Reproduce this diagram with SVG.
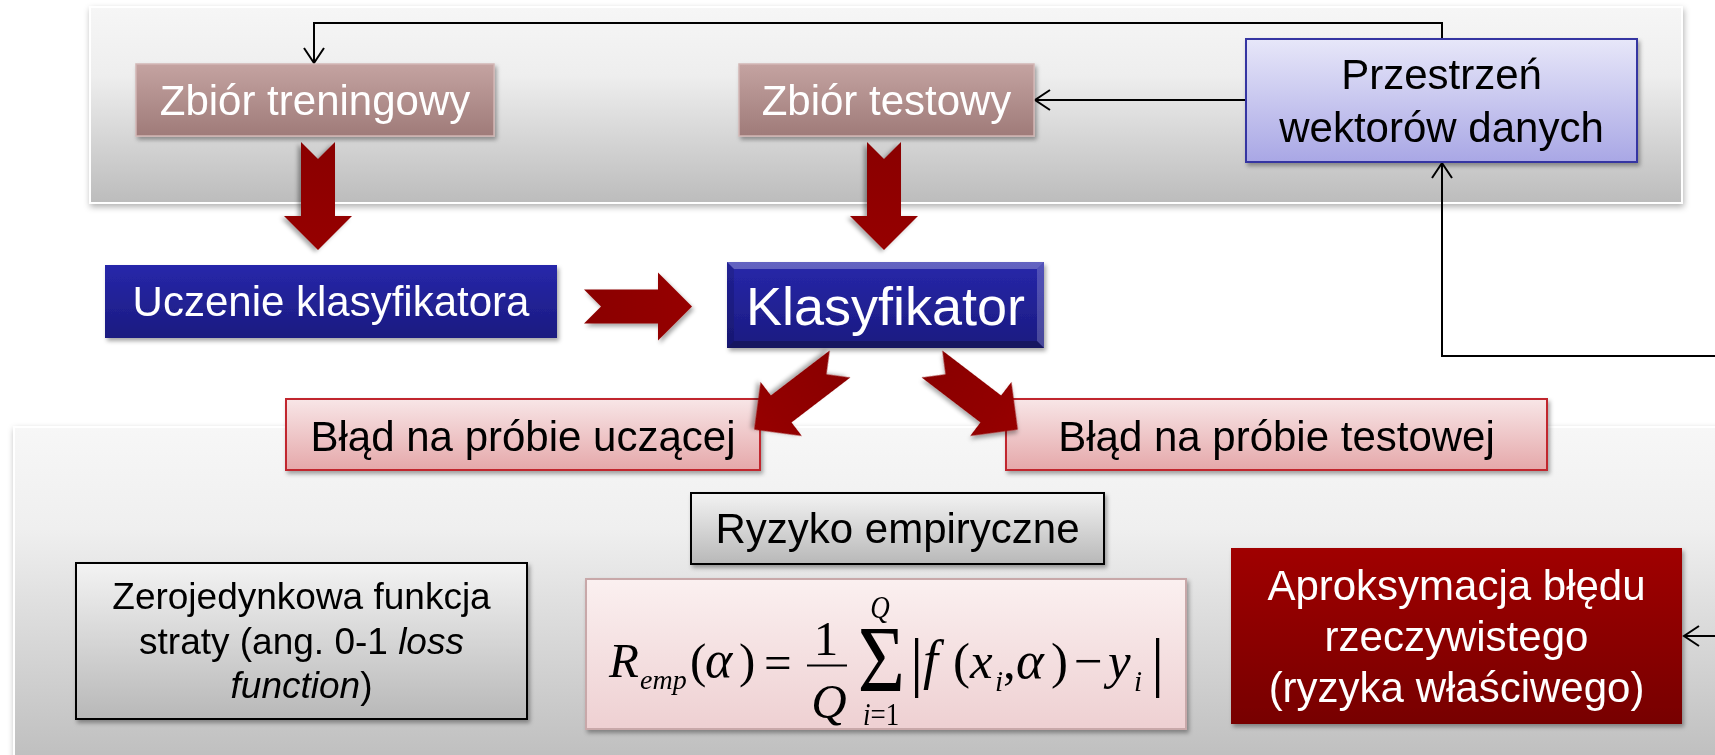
<svg xmlns="http://www.w3.org/2000/svg" width="1715" height="755" viewBox="0 0 1715 755">
  <defs>
    <style>
      .lbl { font-family: "Liberation Sans", Arial, sans-serif; font-size: 42px; text-anchor: middle; }
      .wht { fill: #ffffff; }
      .blk { fill: #000000; }
      .math { font-family: "Liberation Serif", "Times New Roman", serif; font-size: 49px; fill: #000; }
      .conn { fill: none; stroke: #000; stroke-width: 2; }
      .block { fill: url(#gArrow); filter: url(#shadow); }
    </style>
    <linearGradient id="gPanel" x1="0" y1="0" x2="0" y2="1">
      <stop offset="0" stop-color="#f6f6f6"/>
      <stop offset="0.35" stop-color="#eeeeee"/>
      <stop offset="1" stop-color="#bcbcbc"/>
    </linearGradient>
    <linearGradient id="gPanelLow" x1="0" y1="0" x2="0" y2="1">
      <stop offset="0" stop-color="#f7f7f7"/>
      <stop offset="0.3" stop-color="#efefef"/>
      <stop offset="1" stop-color="#bdbdbd"/>
    </linearGradient>
    <linearGradient id="gMauve" x1="0" y1="0" x2="0" y2="1">
      <stop offset="0" stop-color="#c4a3a1"/>
      <stop offset="1" stop-color="#9f7b79"/>
    </linearGradient>
    <linearGradient id="gLav" x1="0" y1="0" x2="0" y2="1">
      <stop offset="0" stop-color="#e7e7f9"/>
      <stop offset="1" stop-color="#a9a7e5"/>
    </linearGradient>
    <linearGradient id="gNavy" x1="0" y1="0" x2="0" y2="1">
      <stop offset="0" stop-color="#2727aa"/>
      <stop offset="1" stop-color="#1b1b80"/>
    </linearGradient>
    <linearGradient id="gPink" x1="0" y1="0" x2="0" y2="1">
      <stop offset="0" stop-color="#f8e6e7"/>
      <stop offset="1" stop-color="#e5a8aa"/>
    </linearGradient>
    <linearGradient id="gGrey" x1="0" y1="0" x2="0" y2="1">
      <stop offset="0" stop-color="#f3f3f3"/>
      <stop offset="1" stop-color="#b8b8b8"/>
    </linearGradient>
    <linearGradient id="gFormula" x1="0" y1="0" x2="0" y2="1">
      <stop offset="0" stop-color="#fbf0f0"/>
      <stop offset="1" stop-color="#eed0d2"/>
    </linearGradient>
    <linearGradient id="gDarkRed" x1="0" y1="0" x2="0" y2="1">
      <stop offset="0" stop-color="#a00000"/>
      <stop offset="1" stop-color="#770000"/>
    </linearGradient>
    <linearGradient id="gArrow" x1="0" y1="0" x2="1" y2="0">
      <stop offset="0" stop-color="#8a0000"/>
      <stop offset="1" stop-color="#960000"/>
    </linearGradient>
    <filter id="shadow" x="-15%" y="-15%" width="140%" height="150%">
      <feDropShadow dx="2" dy="3" stdDeviation="2" flood-color="#000" flood-opacity="0.35"/>
    </filter>
    <filter id="panelShadow" x="-5%" y="-5%" width="110%" height="115%">
      <feDropShadow dx="1" dy="3" stdDeviation="3" flood-color="#000" flood-opacity="0.3"/>
    </filter>
    <marker id="open" markerUnits="userSpaceOnUse" markerWidth="22" markerHeight="24" refX="18" refY="11" orient="auto">
      <path d="M3,1 L18,11 L3,21" fill="none" stroke="#000" stroke-width="2"/>
    </marker>
    <!-- notched block arrow pointing along +x, tail centre at origin -->
    <path id="notched" d="M0,-17 L74,-17 L74,-34 L108,0 L74,34 L74,17 L0,17 L17,0 Z"/>
  </defs>

  <rect width="1715" height="755" fill="#ffffff"/>

  <!-- background panels -->
  <g id="panels">
    <rect x="90" y="7" width="1592" height="196" fill="url(#gPanel)" stroke="#ffffff" stroke-width="2" filter="url(#panelShadow)"/>
    <rect x="14" y="427" width="1720" height="340" fill="url(#gPanelLow)" stroke="#ffffff" stroke-width="2" filter="url(#panelShadow)"/>
  </g>

  <!-- thin connectors -->
  <g id="connectors">
    <path class="conn" d="M1442,39 V23 H314 V63" marker-end="url(#open)"/>
    <path class="conn" d="M1246,100 H1035" marker-end="url(#open)"/>
    <path class="conn" d="M1715,356 H1442 V163" marker-end="url(#open)"/>
    <path class="conn" d="M1715,636 H1684" marker-end="url(#open)"/>
  </g>

  <g id="zbior-treningowy" filter="url(#shadow)">
    <rect x="136" y="64" width="358" height="72" fill="url(#gMauve)" stroke="#d2b6b5" stroke-width="1.5"/>
    <text class="lbl wht" x="315" y="115">Zbiór treningowy</text>
  </g>

  <g id="zbior-testowy" filter="url(#shadow)">
    <rect x="739" y="64" width="295" height="72" fill="url(#gMauve)" stroke="#d2b6b5" stroke-width="1.5"/>
    <text class="lbl wht" x="886.5" y="115">Zbiór testowy</text>
  </g>

  <g id="przestrzen" filter="url(#shadow)">
    <rect x="1246" y="39" width="391" height="123" fill="url(#gLav)" stroke="#3535a2" stroke-width="2"/>
    <text class="lbl blk" x="1441.5" y="89">Przestrzeń</text>
    <text class="lbl blk" x="1441.5" y="142">wektorów danych</text>
  </g>

  <g id="uczenie" filter="url(#shadow)">
    <rect x="105" y="265" width="452" height="73" fill="url(#gNavy)"/>
    <text class="lbl wht" x="331" y="316">Uczenie klasyfikatora</text>
  </g>

  <g id="klasyfikator" filter="url(#shadow)">
    <rect x="727" y="262" width="317" height="86" fill="url(#gNavy)"/>
    <!-- bevelled edges -->
    <polygon points="727,262 1044,262 1037,269 734,269" fill="#ffffff" fill-opacity="0.28"/>
    <polygon points="1044,262 1044,348 1037,341 1037,269" fill="#ffffff" fill-opacity="0.2"/>
    <polygon points="727,348 1044,348 1037,341 734,341" fill="#000000" fill-opacity="0.25"/>
    <polygon points="727,262 734,269 734,341 727,348" fill="#000000" fill-opacity="0.12"/>
    <text class="lbl wht" x="885.5" y="325" style="font-size:54px">Klasyfikator</text>
  </g>

  <g id="blad-uczacej" filter="url(#shadow)">
    <rect x="286" y="399" width="474" height="71" fill="url(#gPink)" stroke="#c1272d" stroke-width="2"/>
    <text class="lbl blk" x="523" y="451">Błąd na próbie uczącej</text>
  </g>

  <g id="blad-testowej" filter="url(#shadow)">
    <rect x="1006" y="399" width="541" height="71" fill="url(#gPink)" stroke="#c1272d" stroke-width="2"/>
    <text class="lbl blk" x="1276.5" y="451">Błąd na próbie testowej</text>
  </g>

  <g id="ryzyko" filter="url(#shadow)">
    <rect x="691" y="493" width="413" height="71" fill="url(#gGrey)" stroke="#000" stroke-width="2"/>
    <text class="lbl blk" x="897.5" y="543">Ryzyko empiryczne</text>
  </g>

  <g id="zerojedynkowa" filter="url(#shadow)">
    <rect x="76" y="563" width="451" height="156" fill="url(#gGrey)" stroke="#000" stroke-width="2"/>
    <text class="lbl blk" x="301.5" y="609" style="font-size:37px">Zerojedynkowa funkcja</text>
    <text class="lbl blk" x="301.5" y="654" style="font-size:37px">straty (ang. 0-1 <tspan font-style="italic">loss</tspan></text>
    <text class="lbl blk" x="301.5" y="698" style="font-size:37px"><tspan font-style="italic">function</tspan>)</text>
  </g>

  <g id="wzor" filter="url(#shadow)">
    <rect x="586" y="579" width="600" height="150" fill="url(#gFormula)" stroke="#c8a8a9" stroke-width="2"/>
    <!-- left-hand side -->
    <text class="math"><tspan x="609" y="677" style="font-style:italic">R</tspan><tspan x="640" y="689" style="font-style:italic;font-size:28px">emp</tspan><tspan x="690" y="677">(</tspan><tspan x="705" y="677" style="font-style:italic;font-size:52px">α</tspan><tspan x="739" y="677">)</tspan><tspan x="764" y="679">=</tspan></text>
    <!-- 1/Q -->
    <text class="math" x="826" y="655" text-anchor="middle">1</text>
    <line x1="807" y1="665.5" x2="847" y2="665.5" stroke="#000" stroke-width="2"/>
    <text class="math" x="829" y="718" text-anchor="middle" style="font-style:italic">Q</text>
    <!-- summation with limits -->
    <text class="math" transform="translate(857,692) scale(0.9,1.07)" text-anchor="middle"><tspan x="27" y="0" style="font-size:90px">Σ</tspan><tspan x="25.6" y="-69" style="font-size:30px;font-style:italic">Q</tspan><tspan x="26.7" y="31" style="font-size:30px"><tspan style="font-style:italic">i</tspan>=1</tspan></text>
    <!-- summand -->
    <text class="math" style="font-size:51px"><tspan x="910" y="684" style="font-size:66px">|</tspan><tspan x="923" y="678" style="font-style:italic;font-size:54px">f</tspan><tspan x="953" y="678">(</tspan><tspan x="970" y="678" style="font-style:italic">x</tspan><tspan x="995" y="691" style="font-style:italic;font-size:29px">i</tspan><tspan x="1003" y="678">,</tspan><tspan x="1016" y="678" style="font-style:italic;font-size:53px">α</tspan><tspan x="1051" y="678">)</tspan><tspan x="1074" y="678">−</tspan><tspan x="1108" y="678" style="font-style:italic">y</tspan><tspan x="1134" y="691" style="font-style:italic;font-size:29px">i</tspan><tspan x="1151" y="684" style="font-size:66px">|</tspan></text>
  </g>

  <g id="aproksymacja" filter="url(#shadow)">
    <rect x="1231" y="548" width="451" height="176" fill="url(#gDarkRed)"/>
    <text class="lbl wht" x="1456.5" y="600">Aproksymacja błędu</text>
    <text class="lbl wht" x="1456.5" y="650.5">rzeczywistego</text>
    <text class="lbl wht" x="1456.5" y="701.5">(ryzyka właściwego)</text>
  </g>

  <!-- thick notched flow arrows -->
  <g id="block-arrows">
    <use href="#notched" class="block" transform="translate(318,142) rotate(90)"/>
    <use href="#notched" class="block" transform="translate(884,142) rotate(90)"/>
    <use href="#notched" class="block" transform="translate(584,306.5)"/>
    <use href="#notched" class="block" transform="translate(840,364) rotate(142.6)"/>
    <use href="#notched" class="block" transform="translate(932,364) rotate(37.4)"/>
  </g>
</svg>
